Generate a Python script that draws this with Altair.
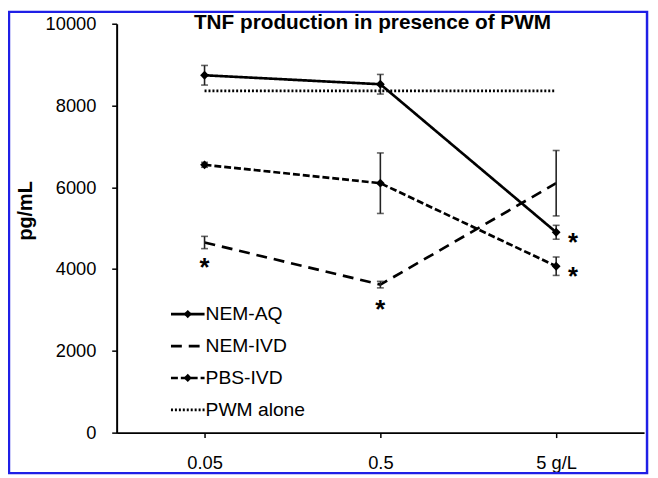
import altair as alt
import pandas as pd

# ---- data ----
categories = ["0.05", "0.5", "5 g/L"]
series_names = ["NEM-AQ", "NEM-IVD", "PBS-IVD", "PWM alone"]
nem_aq = [8740, 8520, 4900]
nem_aq_err = [240, 240, 170]
nem_ivd = [4650, 3620, 6100]
nem_ivd_err = [150, 80, 800]
pbs_ivd = [6550, 6100, 4070]
pbs_ivd_err = [60, 740, 225]
pwm_alone = [8360, 8360, 8360]
y_ticks = [0, 2000, 4000, 6000, 8000, 10000]
star_series = ["NEM-IVD", "NEM-IVD", "NEM-AQ", "PBS-IVD"]
star_cat = ["0.05", "0.5", "5 g/L", "5 g/L"]
star_side = ["below", "below", "right", "right"]

FONT = "Liberation Sans"

values = {"NEM-AQ": nem_aq, "NEM-IVD": nem_ivd, "PBS-IVD": pbs_ivd, "PWM alone": pwm_alone}
errors = {"NEM-AQ": nem_aq_err, "NEM-IVD": nem_ivd_err, "PBS-IVD": pbs_ivd_err}

rows = []
for s in series_names:
    for i, c in enumerate(categories):
        rows.append({"series": s, "cat": c, "val": values[s][i]})
df = pd.DataFrame(rows)

err_rows = []
for s, errs in errors.items():
    for i, c in enumerate(categories):
        v = values[s][i]
        err_rows.append({"series": s, "cat": c, "lo": v - errs[i], "hi": v + errs[i]})
df_err = pd.DataFrame(err_rows)

star_rows = []
for s, c, side in zip(star_series, star_cat, star_side):
    star_rows.append({"series": s, "cat": c, "side": side,
                      "val": values[s][categories.index(c)]})
df_star = pd.DataFrame(star_rows)

dash_scale = alt.Scale(domain=series_names, range=[[1, 0], [11, 7], [7, 3], [2, 2]])
width_scale = alt.Scale(domain=series_names, range=[2.7, 2.7, 3.2, 2.2])
marker_series = ["NEM-AQ", "PBS-IVD"]

x_enc = alt.X("cat:N", sort=categories,
              scale=alt.Scale(type="point", padding=0.5),
              axis=alt.Axis(title=None, labelAngle=0, grid=False, domainColor="black",
                            domainWidth=2, tickColor="black", tickWidth=1.5, tickSize=5,
                            labelFontSize=18.5, labelPadding=16, labelColor="black",
                            labelFont=FONT))
y_scale = alt.Scale(domain=[0, 10000], nice=False)
y_enc = alt.Y("val:Q", scale=y_scale,
              axis=alt.Axis(values=y_ticks, format="d", grid=False, domainColor="black",
                            domainWidth=2, tickColor="black", tickWidth=1.5, tickSize=5,
                            labelFontSize=18.5, labelPadding=16, labelColor="black",
                            labelFont=FONT, title="pg/mL", titleFont=FONT,
                            titleFontSize=20, titleFontWeight="bold", titleColor="black",
                            titleX=-92, titleY=189, titleBaseline="middle"))

lines = alt.Chart(df).mark_line(color="black").encode(
    x=x_enc, y=y_enc, detail="series:N",
    strokeDash=alt.StrokeDash("series:N", scale=dash_scale, legend=None),
    strokeWidth=alt.StrokeWidth("series:N", scale=width_scale, legend=None),
)

points = alt.Chart(df).transform_filter(
    alt.FieldOneOfPredicate(field="series", oneOf=marker_series)
).mark_point(shape="diamond", filled=True, color="black", size=80, opacity=1).encode(
    x=alt.X("cat:N", sort=categories), y=alt.Y("val:Q"))

err_rule = alt.Chart(df_err).mark_rule(color="#222222", strokeWidth=1.6).encode(
    x=alt.X("cat:N", sort=categories), y=alt.Y("lo:Q"), y2="hi:Q")
err_lo = alt.Chart(df_err).mark_tick(color="#222222", thickness=1.6, size=7).encode(
    x=alt.X("cat:N", sort=categories), y=alt.Y("lo:Q"))
err_hi = alt.Chart(df_err).mark_tick(color="#222222", thickness=1.6, size=7).encode(
    x=alt.X("cat:N", sort=categories), y=alt.Y("hi:Q"))

stars_below = alt.Chart(df_star).transform_filter(alt.datum.side == "below").mark_text(
    text="*", font=FONT, fontSize=26, fontWeight="bold", color="black", dy=26).encode(
    x=alt.X("cat:N", sort=categories), y=alt.Y("val:Q"))
stars_right = alt.Chart(df_star).transform_filter(alt.datum.side == "right").mark_text(
    text="*", font=FONT, fontSize=26, fontWeight="bold", color="black", dx=17, dy=11).encode(
    x=alt.X("cat:N", sort=categories), y=alt.Y("val:Q"))

main = alt.layer(lines, err_rule, err_lo, err_hi, points, stars_below, stars_right)

# ---- legend and decorations ----
df_leg = pd.DataFrame({"series": series_names})
leg_y = alt.Y("series:N", sort=series_names,
              scale=alt.Scale(type="point", range=[294, 391], padding=0), axis=None)
leg_rule = alt.Chart(df_leg).mark_rule(color="black").encode(
    x=alt.value(55), x2=alt.value(89), y=leg_y,
    strokeDash=alt.StrokeDash("series:N", scale=dash_scale, legend=None),
    strokeWidth=alt.StrokeWidth("series:N", scale=width_scale, legend=None))
leg_pts = alt.Chart(df_leg).transform_filter(
    alt.FieldOneOfPredicate(field="series", oneOf=marker_series)
).mark_point(shape="diamond", filled=True, color="black", size=70, opacity=1).encode(
    x=alt.value(72), y=leg_y)
leg_txt = alt.Chart(df_leg).mark_text(align="left", baseline="middle", font=FONT,
                                      fontSize=19.5, color="black").encode(
    x=alt.value(90), y=leg_y, text="series:N")

title = alt.Chart(pd.DataFrame({"t": ["TNF production in presence of PWM"]})).mark_text(
    font=FONT, fontSize=21, fontWeight="bold", color="black", baseline="middle").encode(
    x=alt.value(259), y=alt.value(-1), text="t:N")

frame = alt.Chart(pd.DataFrame({"a": [0]})).mark_rect(
    fillOpacity=0, stroke="#1f1fe6", strokeWidth=2.5).encode(
    x=alt.value(-109), x2=alt.value(537), y=alt.value(-12), y2=alt.value(455))

deco = alt.layer(leg_rule, leg_pts, leg_txt, title, frame)

chart = alt.layer(main, deco).resolve_scale(y="independent").properties(
    width=534, height=414,
    padding={"left": 110, "top": 13, "right": 6, "bottom": 43},
    autosize=alt.AutoSizeParams(type="none"),
    background="white",
).configure_view(stroke=None)

chart.save("out.html", embed_options={"renderer": "svg", "actions": False})
